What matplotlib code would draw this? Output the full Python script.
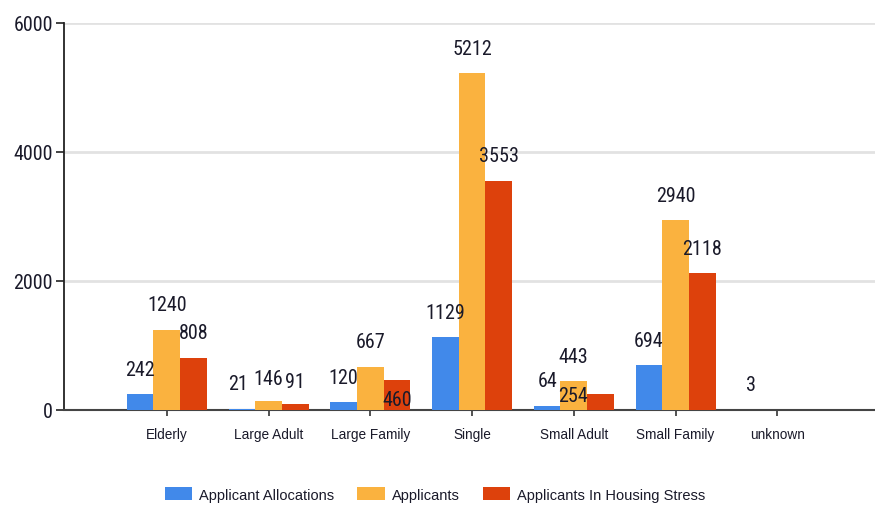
import numpy as np
import matplotlib
matplotlib.use("Agg")
import matplotlib.pyplot as plt

categories = ["Elderly", "Large Adult", "Large Family", "Single", "Small Adult", "Small Family", "unknown"]
series_names = ["Applicant Allocations", "Applicants", "Applicants In Housing Stress"]
allocations = [242, 21, 120, 1129, 64, 694, 3]
applicants = [1240, 146, 667, 5212, 443, 2940, None]
housing_stress = [808, 91, 460, 3553, 254, 2118, None]
y_ticks = [0, 2000, 4000, 6000]

colors = ["#4189EA", "#FAB23F", "#DD410C"]

narrow = ["Roboto Condensed", "PT Sans Narrow", "DejaVu Sans"]
regular = ["Liberation Sans", "DejaVu Sans"]
text_color = "#1a1a2a"

W, H = 875, 506
fig = plt.figure(figsize=(W / 100, H / 100), dpi=100)
ax_left, ax_right, ax_bottom, ax_top = 64, 875, 411, 23.5
ax = fig.add_axes([ax_left / W, 1 - ax_bottom / H, (ax_right - ax_left) / W, (ax_bottom - ax_top) / H])

x = np.arange(len(categories))
bw = 0.262
series = [allocations, applicants, housing_stress]
offsets = [-bw, 0, bw]

# label nudges (pixels: dx, dy upwards relative to default placement)
nudges = {(1, 0): (-4, 0), (1, 1): (0, -3), (1, 2): (0, -2),
          (2, 2): (0, -44), (4, 2): (-27, -27)}

for si, (vals, off, col, name) in enumerate(zip(series, offsets, colors, series_names)):
    v = np.array([np.nan if a is None else a for a in vals], dtype=float)
    ax.bar(x + off, np.nan_to_num(v), width=bw, color=col, label=name, zorder=3, linewidth=0)
    for ci, val in enumerate(v):
        if np.isnan(val):
            continue
        dx, dy = nudges.get((ci, si), (0, 0))
        ax.annotate(f"{int(val)}", xy=(x[ci] + off, val),
                    xytext=(dx * 0.72, (25 + dy) * 0.72), textcoords="offset points",
                    ha="center", va="center", fontsize=14.5, family=narrow,
                    color=text_color, zorder=5)

ax.set_xlim(-1.01, 6.96)
ax.set_ylim(0, 6000)
ax.set_yticks(y_ticks)
ax.set_yticklabels([str(t) for t in y_ticks], family=narrow, fontsize=14.5, color=text_color)
ax.set_xticks(x)
ax.set_xticklabels(categories, family=regular, fontsize=9.8, color=text_color)
ax.tick_params(axis="y", length=6, width=1.2, color="#222222", pad=2)
ax.tick_params(axis="x", length=4, width=1.2, color="#333333", pad=8.5)
ax.yaxis.grid(True, color="#e2e2e2", linewidth=2, zorder=0)
ax.set_axisbelow(True)
for s in ["top", "right"]:
    ax.spines[s].set_visible(False)
ax.spines["left"].set_color("#222222")
ax.spines["left"].set_linewidth(1.3)
ax.spines["bottom"].set_color("#444444")
ax.spines["bottom"].set_linewidth(1.5)

handles, labels = ax.get_legend_handles_labels()
leg = fig.legend(handles, labels, loc="center", bbox_to_anchor=(0.497, 1 - 495.5 / H),
                 ncol=3, frameon=False, prop={"family": regular, "size": 10.5},
                 handlelength=1.9, handleheight=1.0, handletextpad=0.45, columnspacing=1.6)
for t in leg.get_texts():
    t.set_color(text_color)

fig.savefig("out.png", dpi=100)
